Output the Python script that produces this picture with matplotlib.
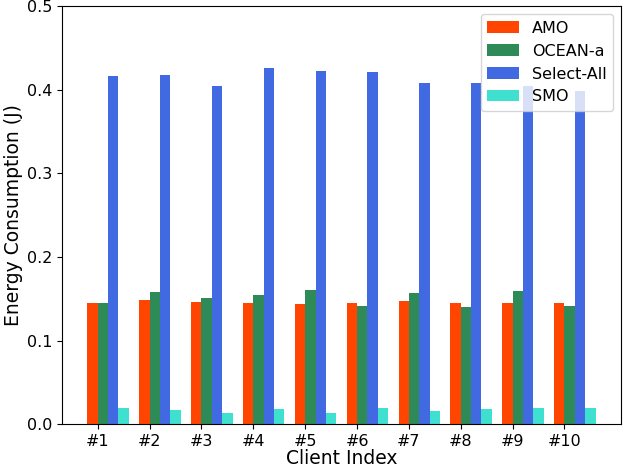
import numpy as np
import matplotlib
matplotlib.use("Agg")
import matplotlib.pyplot as plt

# ── Data ────────────────────────────────────────────────────────────────────

clients = ["#1", "#2", "#3", "#4", "#5", "#6", "#7", "#8", "#9", "#10"]
amo = [0.145, 0.149, 0.146, 0.145, 0.144, 0.145, 0.147, 0.145, 0.145, 0.145]
ocean_a = [0.145, 0.158, 0.151, 0.154, 0.161, 0.141, 0.157, 0.140, 0.159, 0.141]
select_all = [0.416, 0.418, 0.405, 0.426, 0.423, 0.421, 0.408, 0.408, 0.405, 0.398]
smo = [0.019, 0.017, 0.014, 0.018, 0.014, 0.019, 0.016, 0.018, 0.019, 0.020]

series = [("AMO", amo, "#FF4500"),
          ("OCEAN-a", ocean_a, "#2E8B57"),
          ("Select-All", select_all, "#4169E1"),
          ("SMO", smo, "#40E0D0")]

# ── Plot ────────────────────────────────────────────────────────────────────

fig, ax = plt.subplots(figsize=(6.26, 4.74), dpi=100)
x = np.arange(len(clients))
width = 0.2
for i, (name, vals, color) in enumerate(series):
    ax.bar(x + (i - 0.5) * width, vals, width, label=name, color=color)

ax.set_xticks(x)
ax.set_xticklabels(clients)
ax.set_ylim(0, 0.5)
ax.tick_params(labelsize=11.5)
ax.set_xlabel("Client Index", fontsize=13.5, labelpad=0)
ax.set_ylabel("Energy Consumption (J)", fontsize=13.5, labelpad=3)
ax.legend(loc="upper right", fontsize=11.5)

plt.subplots_adjust(left=0.099, right=0.992, top=0.987, bottom=0.105)
plt.savefig("out.png", dpi=100)
plt.close()
